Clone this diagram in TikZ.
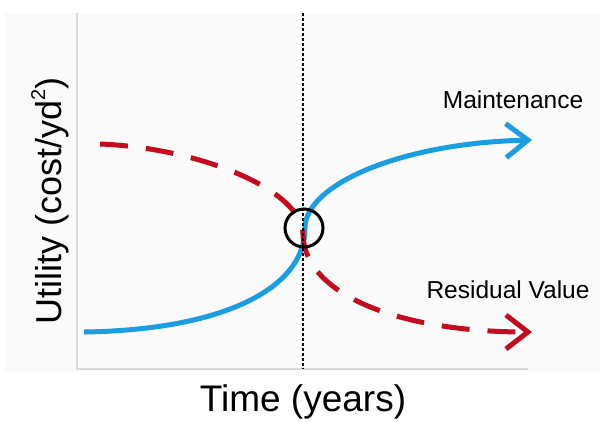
\documentclass[tikz,border=0pt]{standalone}
\usepackage{fontspec}
\setmainfont{Liberation Sans}
\usepackage{xcolor}
\usetikzlibrary{arrows.meta,positioning}

\definecolor{mblue}{RGB}{27,157,226}
\definecolor{rred}{RGB}{196,12,30}
\definecolor{axisgray}{RGB}{217,217,217}

\begin{document}
\begin{tikzpicture}[x=1pt,y=-1pt,
    curve/.style={line width=5pt, -{Straight Barb[length=22pt,width=34pt]}},
    label/.style={font=\fontsize{24.5}{29}\selectfont, inner sep=0pt}]
    \useasboundingbox (0,0) rectangle (604,421);
    \fill[black!2] (5,13) rectangle (600,372);

    % axes
    \coordinate (origin) at (77,369);
    \coordinate (ytop) at (77,13);
    \coordinate (xend) at (528,369);
    \draw[axisgray, line width=1.5pt] (ytop) -- (origin) -- (xend);

    \coordinate (mstart) at (84,332);
    \coordinate (mend) at (532,140);
    \coordinate (rstart) at (100,144);
    \coordinate (rend) at (532,332);
    \coordinate (mmid) at (305,228);
    \coordinate (rmid) at (303,235);

    % maintenance and residual value
    \draw[curve, mblue] (mstart) .. controls (220,330) and (305,290) .. (mmid)
        .. controls (305,185) and (400,143) .. (mend);
    \draw[curve, rred, dash pattern=on 28pt off 18pt] (rstart) .. controls (200,148) and (303,190) .. (rmid)
        .. controls (305,295) and (400,332) .. (rend);

    \coordinate (dtop) at (303,13);
    \coordinate (dbot) at (303,369);
    \draw[black, line width=2.5pt, dash pattern=on 2.5pt off 2.5pt] (dtop) -- (dbot);

    \node[circle, draw, line width=3pt, minimum size=38pt, inner sep=0pt] (cross) at (304,228) {};

    \node[label] (maint) at (513,100) {Maintenance};
    \node[label] (resid) at (508,290) {Residual Value};
    \node[font=\fontsize{37}{42}\selectfont, inner sep=0pt] (time) at (303,402) {Time (years)};
    \node[font=\fontsize{36}{42}\selectfont, inner sep=0pt, rotate=90] (util) at (50,201) {Utility (cost/yd\raisebox{0.45em}{\fontsize{20}{22}\selectfont 2})};
\end{tikzpicture}
\end{document}
